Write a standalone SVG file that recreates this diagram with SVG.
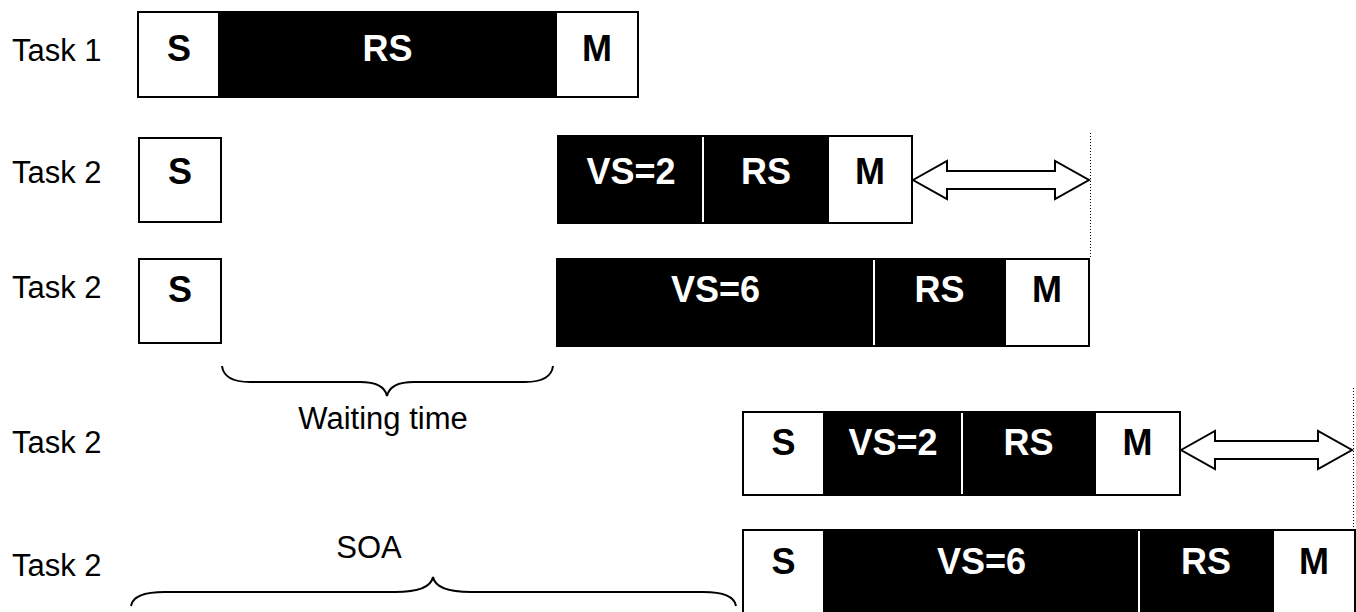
<svg xmlns="http://www.w3.org/2000/svg" width="1356" height="612" viewBox="0 0 1356 612">
  <style>
    .lbl { font-family: "Liberation Sans", Arial, sans-serif; font-size: 31px; fill: #000; }
    .cell-w { fill: #fff; stroke: #000; stroke-width: 2; }
    .cell-b { fill: #000; stroke: #000; stroke-width: 2; }
    .sep { stroke: #fff; stroke-width: 2; }
    .t { font-family: "Liberation Sans", Arial, sans-serif; font-size: 36px; font-weight: bold; text-anchor: middle; }
    .tw { fill: #fff; }
    .tb { fill: #000; }
    .brace { fill: none; stroke: #000; stroke-width: 2; }
    .dotted { stroke: #000; stroke-width: 1; stroke-dasharray: 1 2; }
    .arrow { fill: #fff; stroke: #000; stroke-width: 2; stroke-linejoin: miter; }
  </style>

  <!-- row labels -->
  <g id="labels">
    <text class="lbl" x="12" y="61">Task 1</text>
    <text class="lbl" x="12" y="183">Task 2</text>
    <text class="lbl" x="12" y="298">Task 2</text>
    <text class="lbl" x="12" y="453">Task 2</text>
    <text class="lbl" x="12" y="576">Task 2</text>
  </g>

  <!-- Task 1 -->
  <g id="task1">
    <rect class="cell-w" x="138" y="12" width="81" height="85"/>
    <rect class="cell-b" x="219" y="12" width="337" height="85"/>
    <rect class="cell-w" x="556" y="12" width="82" height="85"/>
    <text class="t tb" x="179" y="61">S</text>
    <text class="t tw" x="387.5" y="61">RS</text>
    <text class="t tb" x="597" y="61">M</text>
  </g>

  <!-- Task 2, VS=2, waiting -->
  <g id="task2a">
    <rect class="cell-w" x="139" y="138" width="82" height="84"/>
    <text class="t tb" x="180" y="184">S</text>
    <rect class="cell-b" x="558" y="136" width="270" height="87"/>
    <line class="sep" x1="703" y1="137" x2="703" y2="222"/>
    <rect class="cell-w" x="828" y="136" width="84" height="87"/>
    <text class="t tw" x="631" y="184">VS=2</text>
    <text class="t tw" x="766" y="184">RS</text>
    <text class="t tb" x="870" y="184">M</text>
  </g>

  <!-- Task 2, VS=6, waiting -->
  <g id="task2b">
    <rect class="cell-w" x="139" y="259" width="82" height="84"/>
    <text class="t tb" x="180" y="302">S</text>
    <rect class="cell-b" x="557" y="259" width="448" height="87"/>
    <line class="sep" x1="874" y1="260" x2="874" y2="345"/>
    <rect class="cell-w" x="1005" y="259" width="84" height="87"/>
    <text class="t tw" x="715.5" y="302">VS=6</text>
    <text class="t tw" x="939.5" y="302">RS</text>
    <text class="t tb" x="1047" y="302">M</text>
  </g>

  <!-- Task 2, VS=2, SOA -->
  <g id="task2c">
    <rect class="cell-w" x="743" y="412" width="81" height="83"/>
    <rect class="cell-b" x="824" y="412" width="271" height="83"/>
    <line class="sep" x1="962" y1="413" x2="962" y2="494"/>
    <rect class="cell-w" x="1095" y="412" width="85" height="83"/>
    <text class="t tb" x="783.5" y="455">S</text>
    <text class="t tw" x="893" y="455">VS=2</text>
    <text class="t tw" x="1028.5" y="455">RS</text>
    <text class="t tb" x="1137.5" y="455">M</text>
  </g>

  <!-- Task 2, VS=6, SOA -->
  <g id="task2d">
    <rect class="cell-w" x="743" y="530" width="81" height="90"/>
    <rect class="cell-b" x="824" y="530" width="449" height="90"/>
    <line class="sep" x1="1139" y1="531" x2="1139" y2="612"/>
    <rect class="cell-w" x="1273" y="530" width="82" height="90"/>
    <text class="t tb" x="783.5" y="574">S</text>
    <text class="t tw" x="981.5" y="574">VS=6</text>
    <text class="t tw" x="1206" y="574">RS</text>
    <text class="t tb" x="1314" y="574">M</text>
  </g>

  <!-- braces, arrows and guide lines -->
  <g id="connectors">
    <line class="dotted" x1="1090.5" y1="133" x2="1090.5" y2="258"/>
    <line class="dotted" x1="1353.5" y1="388" x2="1353.5" y2="530"/>
    <path class="arrow" d="M913,180 L947,161 L947,171 L1055,171 L1055,161 L1089,180 L1055,199 L1055,189 L947,189 L947,199 Z"/>
    <path class="arrow" d="M1181,450 L1215,431 L1215,441 L1318,441 L1318,431 L1352,450 L1318,469 L1318,459 L1215,459 L1215,469 Z"/>
    <path class="brace" d="M222,366 Q224,382 250,382 L360,382 Q384,382 387,396 Q390,382 414,382 L525,382 Q551,382 553,366"/>
    <text class="lbl" x="383" y="429" text-anchor="middle">Waiting time</text>
    <path class="brace" d="M131,606 Q133,592 165,592 L395,592 Q430,592 433,577 Q436,592 471,592 L703,592 Q734,592 736,606"/>
    <text class="lbl" x="369" y="558" text-anchor="middle">SOA</text>
  </g>
</svg>
